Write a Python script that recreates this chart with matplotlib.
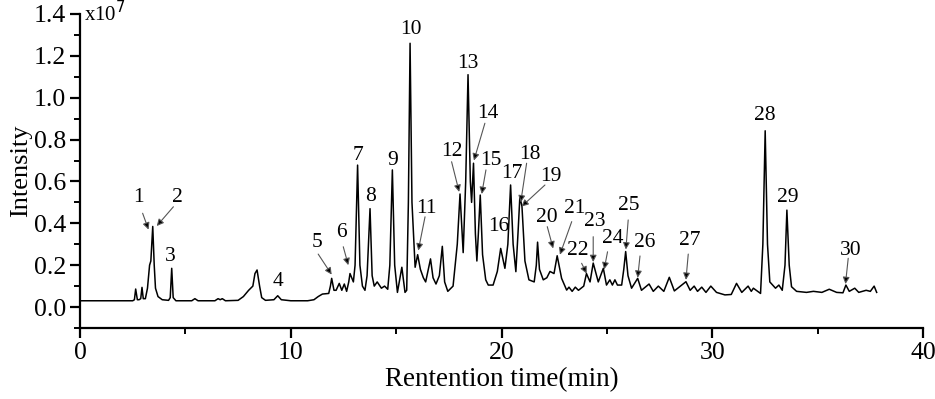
import matplotlib
matplotlib.use("Agg")
import matplotlib.pyplot as plt
from matplotlib.ticker import MultipleLocator, FormatStrFormatter

plt.rcParams['font.family'] = ['Liberation Serif', 'DejaVu Serif']

# Retention time (min) and intensity (x1e7)
time = [0.0, 2.5, 2.58, 2.64, 2.72, 2.8, 2.88, 2.94, 3.0, 3.1, 3.2, 3.3, 3.36, 3.45, 3.52, 3.58,
        3.7, 3.9, 4.2, 4.28, 4.35, 4.42, 4.55, 5.3, 5.45, 5.6, 6.4, 6.55, 6.65, 6.75, 6.9,
        7.5, 7.75, 8.0, 8.1, 8.2, 8.3, 8.4, 8.52, 8.62, 8.8, 9.2, 9.38, 9.55, 10.0, 10.8,
        11.1, 11.3, 11.5, 11.8, 11.88, 11.94, 12.05, 12.15, 12.3, 12.42, 12.54, 12.65, 12.75,
        12.81, 12.97, 13.05, 13.17, 13.28, 13.4, 13.52, 13.62, 13.76, 13.86, 13.96, 14.1,
        14.3, 14.45, 14.6, 14.7, 14.82, 14.93, 15.06, 15.27, 15.42, 15.5, 15.58, 15.66,
        15.75, 15.9, 16.02, 16.15, 16.29, 16.4, 16.63, 16.75, 16.89, 17.05, 17.19, 17.3,
        17.45, 17.7, 17.9, 18.03, 18.18, 18.3, 18.41, 18.52, 18.58, 18.67, 18.76, 18.83,
        18.9, 18.99, 19.1, 19.25, 19.37, 19.6, 19.8, 19.96, 20.16, 20.3, 20.43, 20.55,
        20.68, 20.78, 20.87, 20.97, 21.11, 21.3, 21.55, 21.65, 21.71, 21.8, 21.98, 22.15,
        22.3, 22.49, 22.64, 22.85, 23.09, 23.2, 23.35, 23.5, 23.65, 23.9, 24.03, 24.2,
        24.35, 24.59, 24.83, 24.98, 25.14, 25.26, 25.38, 25.5, 25.7, 25.8, 25.89, 26.0,
        26.17, 26.46, 26.64, 27.0, 27.2, 27.44, 27.7, 27.96, 28.2, 28.75, 28.95, 29.14,
        29.3, 29.5, 29.7, 29.93, 30.2, 30.6, 30.9, 31.15, 31.4, 31.7, 31.85, 31.95, 32.29,
        32.4, 32.51, 32.62, 32.73, 33.0, 33.16, 33.32, 33.45, 33.54, 33.65, 33.76, 34.0,
        34.47, 34.8, 35.2, 35.55, 35.9, 36.2, 36.34, 36.5, 36.76, 36.95, 37.3, 37.5,
        37.68, 37.8]
intensity = [0.03, 0.03, 0.035, 0.086, 0.035, 0.035, 0.04, 0.094, 0.04, 0.04, 0.09, 0.2, 0.22,
             0.385, 0.2, 0.09, 0.05, 0.035, 0.032, 0.045, 0.185, 0.045, 0.03, 0.03, 0.04,
             0.03, 0.03, 0.04, 0.035, 0.04, 0.03, 0.032, 0.05, 0.08, 0.09, 0.1, 0.16, 0.177,
             0.1, 0.045, 0.032, 0.035, 0.054, 0.035, 0.03, 0.03, 0.035, 0.05, 0.062, 0.065,
             0.1, 0.137, 0.08, 0.08, 0.113, 0.08, 0.11, 0.075, 0.12, 0.16, 0.12, 0.2, 0.678,
             0.2, 0.1, 0.08, 0.15, 0.47, 0.15, 0.1, 0.12, 0.09, 0.1, 0.085, 0.2, 0.655, 0.2,
             0.07, 0.19, 0.07, 0.08, 0.5, 1.26, 0.5, 0.19, 0.25, 0.18, 0.14, 0.12, 0.23, 0.14,
             0.11, 0.15, 0.29, 0.12, 0.075, 0.1, 0.3, 0.54, 0.26, 0.6, 1.11, 0.6, 0.5, 0.687,
             0.35, 0.22, 0.35, 0.535, 0.25, 0.13, 0.105, 0.105, 0.17, 0.28, 0.185, 0.3, 0.583,
             0.3, 0.169, 0.35, 0.527, 0.48, 0.22, 0.13, 0.12, 0.2, 0.31, 0.18, 0.13, 0.14,
             0.17, 0.16, 0.245, 0.137, 0.081, 0.095, 0.075, 0.095, 0.08, 0.1, 0.16, 0.12,
             0.21, 0.12, 0.185, 0.105, 0.13, 0.105, 0.13, 0.105, 0.105, 0.18, 0.265, 0.15,
             0.09, 0.137, 0.08, 0.11, 0.075, 0.1, 0.075, 0.142, 0.077, 0.121, 0.08, 0.1,
             0.075, 0.095, 0.07, 0.1, 0.07, 0.058, 0.06, 0.113, 0.07, 0.1, 0.075, 0.09, 0.065,
             0.3, 0.842, 0.3, 0.12, 0.09, 0.105, 0.08, 0.2, 0.463, 0.2, 0.097, 0.075, 0.07,
             0.075, 0.07, 0.085, 0.07, 0.068, 0.105, 0.075, 0.09, 0.07, 0.08, 0.075, 0.1, 0.07]

# Peak labels: number, text position (t, v), arrow tail, arrow head (None = plain label)
peak_ids = [str(i) for i in range(1, 31)]
label_pos = [(2.77, 0.524), (4.63, 0.524), (4.27, 0.24), (9.41, 0.121), (11.23, 0.309),
             (12.41, 0.355), (13.17, 0.726), (13.79, 0.527), (14.83, 0.699), (15.7, 1.327),
             (16.45, 0.472), (17.63, 0.742), (18.42, 1.164), (19.37, 0.925), (19.48, 0.699),
             (19.89, 0.384), (20.48, 0.639), (21.35, 0.731), (22.33, 0.623), (22.14, 0.429),
             (23.48, 0.472), (23.64, 0.272), (24.43, 0.408), (25.27, 0.328), (26.06, 0.483),
             (26.77, 0.309), (28.94, 0.32), (32.5, 0.913), (33.57, 0.524), (36.57, 0.272)]
arrow_tail = [(2.97, 0.448), (4.43, 0.479), None, None, (11.3, 0.253), (12.49, 0.288), None,
              None, None, None, (16.37, 0.431), (17.63, 0.694), None, (19.21, 0.878),
              (19.26, 0.655), None, None, (21.19, 0.687), (22.06, 0.583), (22.17, 0.384),
              (23.33, 0.408), (23.8, 0.209), (24.35, 0.336), (25.03, 0.264), (26.01, 0.416),
              (26.57, 0.244), (28.86, 0.253), None, None, (36.45, 0.233)]
arrow_head = [(3.25, 0.37), (3.64, 0.387), None, None, (11.94, 0.155), (12.73, 0.2), None,
              None, None, None, (16.05, 0.27), (17.99, 0.55), None, (18.69, 0.7),
              (19.06, 0.54), None, None, (20.91, 0.5), (20.95, 0.48), (22.45, 0.28),
              (22.77, 0.25), (24.04, 0.16), (24.35, 0.215), (24.87, 0.18), (25.9, 0.275),
              (26.46, 0.14), (28.75, 0.13), None, None, (36.32, 0.11)]

fig = plt.figure(figsize=(9.35, 3.99), dpi=100)
ax = fig.add_axes([0.0856, 0.178, 0.9016, 0.787])
ax.plot(time, intensity, color='black', lw=1.1)

for pid, pos, tail, head in zip(peak_ids, label_pos, arrow_tail, arrow_head):
    ax.text(pos[0], pos[1], pid, ha='center', va='center', fontsize=15.5)
    if tail is not None:
        ax.annotate('', xy=head, xytext=tail,
                    arrowprops=dict(arrowstyle='-|>', ec='#555555', fc='black', lw=0.8,
                                    mutation_scale=10, shrinkA=0, shrinkB=0))

ax.set_xlim(0, 40)
ax.set_ylim(-0.1, 1.4)
ax.xaxis.set_major_locator(MultipleLocator(10))
ax.xaxis.set_minor_locator(MultipleLocator(5))
ax.yaxis.set_major_locator(MultipleLocator(0.2))
ax.yaxis.set_minor_locator(MultipleLocator(0.1))
ax.yaxis.set_major_formatter(FormatStrFormatter('%.1f'))
for s in ['top', 'right']:
    ax.spines[s].set_visible(False)
for s in ['left', 'bottom']:
    ax.spines[s].set_linewidth(1.6)
ax.tick_params(which='major', direction='out', length=7, width=1.6, labelsize=18.5, pad=3)
ax.tick_params(which='minor', direction='out', length=4, width=1.4)
ax.set_xlabel('Rentention time(min)', fontsize=19.5, labelpad=2)
ax.set_ylabel('Intensity', fontsize=19, labelpad=1)
ax.text(0.005, 1.0, 'x10$^{7}$', transform=ax.transAxes, ha='left', va='center',
        fontsize=15)

fig.savefig('out.png', dpi=100)
